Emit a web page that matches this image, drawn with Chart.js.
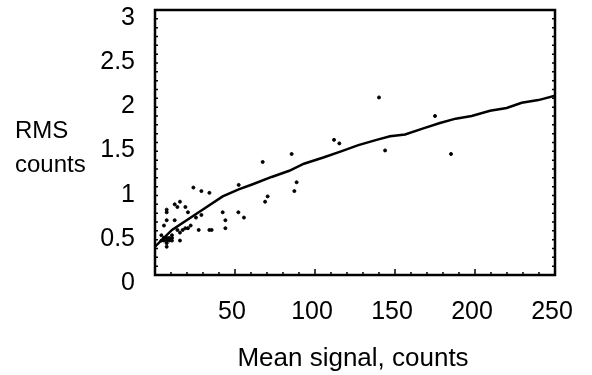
<!DOCTYPE html>
<html>
<head>
<meta charset="utf-8">
<script src="https://cdn.jsdelivr.net/npm/chart.js@4.4.1/dist/chart.umd.min.js"></script>
<style>
    html, body { margin: 0; padding: 0; background: #fff; }
    #wrap { width: 592px; height: 375px; }
</style>
</head>
<body>
<div id="wrap"><canvas id="rmsChart"></canvas></div>
<script>
// medições (sinal médio x RMS)
const sinalX = [140, 175, 185, 143.8, 111.9, 115.2, 85.4, 88.5, 87.1, 67.3, 70.4, 68.8,
    52.3, 52.1, 55.6, 42.3, 44, 44, 34, 29, 24, 34, 35.4, 27.3, 29, 25.6, 20.6, 19,
    15.6, 14, 12.3, 7.3, 7.3, 7.3, 5.6, 12.3, 22.3, 20.6, 19, 17.3, 15.6, 14, 15.6,
    4, 5.6, 7.3, 8.9, 10.6, 10.6, 10.6, 8.9, 7.3, 5.6, 7.3, 7.3, 4];
const rmsY = [2.01, 1.8, 1.37, 1.41, 1.53, 1.49, 1.37, 1.05, 0.95, 1.28, 0.89, 0.83,
    1.02, 0.71, 0.65, 0.71, 0.62, 0.53, 0.93, 0.95, 0.99, 0.51, 0.51, 0.51, 0.68, 0.65, 0.71, 0.77,
    0.83, 0.77, 0.8, 0.74, 0.71, 0.62, 0.56, 0.62, 0.56, 0.53, 0.53, 0.51, 0.48, 0.51, 0.39,
    0.45, 0.42, 0.42, 0.42, 0.45, 0.42, 0.39, 0.39, 0.39, 0.39, 0.36, 0.32, 0.39];

// curva ajustada
const curvaX = [0, 10.6, 29, 42.3, 52.3, 61.5, 72.9, 83.9, 93.1, 105.2, 116.3, 127.1,
    138.5, 146.9, 156.3, 167.7, 178.1, 187.9, 197.9, 209.4, 219.8, 229.2, 239.6, 250];
const curvaY = [0.32, 0.51, 0.73, 0.89, 0.97, 1.03, 1.11, 1.18, 1.26, 1.33, 1.4, 1.47,
    1.53, 1.57, 1.59, 1.66, 1.72, 1.77, 1.8, 1.86, 1.89, 1.95, 1.98, 2.03];

const tituloX = "Mean signal, counts";
const tituloY = ["RMS", "counts"];
const fonte = "'Liberation Sans', Arial, sans-serif";

const pontos = sinalX.map((x, i) => ({ x: x, y: rmsY[i] }));
const curva = curvaX.map((x, i) => ({ x: x, y: curvaY[i] }));

// moldura, marcas internas e títulos
const molduraPlugin = {
    id: "moldura",
    afterDraw(chart) {
        const ctx = chart.ctx;
        const a = chart.chartArea;
        const sx = chart.scales.x;
        const sy = chart.scales.y;
        ctx.save();
        ctx.strokeStyle = "#000";
        ctx.lineWidth = 1.5;
        for (let v = 10; v < 250; v += 10) {
            const px = sx.getPixelForValue(v);
            const len = v % 50 === 0 ? 6 : 3;
            ctx.beginPath();
            ctx.moveTo(px, a.bottom);
            ctx.lineTo(px, a.bottom - len);
            ctx.stroke();
        }
        for (let k = 1; k < 30; k++) {
            const py = sy.getPixelForValue(k / 10);
            ctx.beginPath();
            ctx.moveTo(a.left, py);
            ctx.lineTo(a.left + 3, py);
            ctx.moveTo(a.right, py);
            ctx.lineTo(a.right - 3, py);
            ctx.stroke();
        }
        ctx.lineWidth = 2.5;
        ctx.strokeRect(a.left, a.top, a.right - a.left, a.bottom - a.top);

        ctx.fillStyle = "#000";
        ctx.font = "24px " + fonte;
        ctx.textAlign = "left";
        ctx.textBaseline = "alphabetic";
        ctx.fillText(tituloY[0], 15, 138);
        ctx.fillText(tituloY[1], 15, 172);
        ctx.font = "26px " + fonte;
        ctx.textAlign = "center";
        ctx.fillText(tituloX, 353, 366);
        ctx.restore();
    }
};

const ctxRms = document.getElementById("rmsChart").getContext("2d");

let rmsChart = new Chart(ctxRms, {
    type: "scatter",
    data: {
        datasets: [
            {
                label: "RMS",
                data: pontos,
                backgroundColor: "#000",
                borderColor: "#000",
                pointRadius: 1.5,
                showLine: false
            },
            {
                label: "Ajuste",
                data: curva,
                borderColor: "#000",
                borderWidth: 2.5,
                pointRadius: 0,
                showLine: true,
                tension: 0
            }
        ]
    },
    options: {
        responsive: true,
        maintainAspectRatio: false,
        animation: false,
        layout: { padding: { top: 10, right: 37, left: 0, bottom: 0 } },
        plugins: {
            legend: { display: false },
            tooltip: { enabled: false }
        },
        scales: {
            x: {
                type: "linear",
                min: 0,
                max: 250,
                grid: { display: false },
                border: { display: false },
                ticks: {
                    stepSize: 50,
                    autoSkip: false,
                    maxRotation: 0,
                    padding: 14,
                    labelOffset: -3,
                    color: "#000",
                    font: { size: 25, family: fonte },
                    callback: v => v === 0 ? "" : v
                },
                afterFit: s => { s.height = 100; s.paddingLeft = 0; s.paddingRight = 0; }
            },
            y: {
                type: "linear",
                min: 0,
                max: 3,
                grid: { display: false },
                border: { display: false },
                ticks: {
                    stepSize: 0.5,
                    padding: 12,
                    labelOffset: 8,
                    color: "#000",
                    font: { size: 25, family: fonte },
                    callback: v => String(v)
                },
                afterFit: s => { s.width = 155; s.paddingTop = 0; s.paddingBottom = 0; }
            }
        }
    },
    plugins: [molduraPlugin]
});
</script>
</body>
</html>
